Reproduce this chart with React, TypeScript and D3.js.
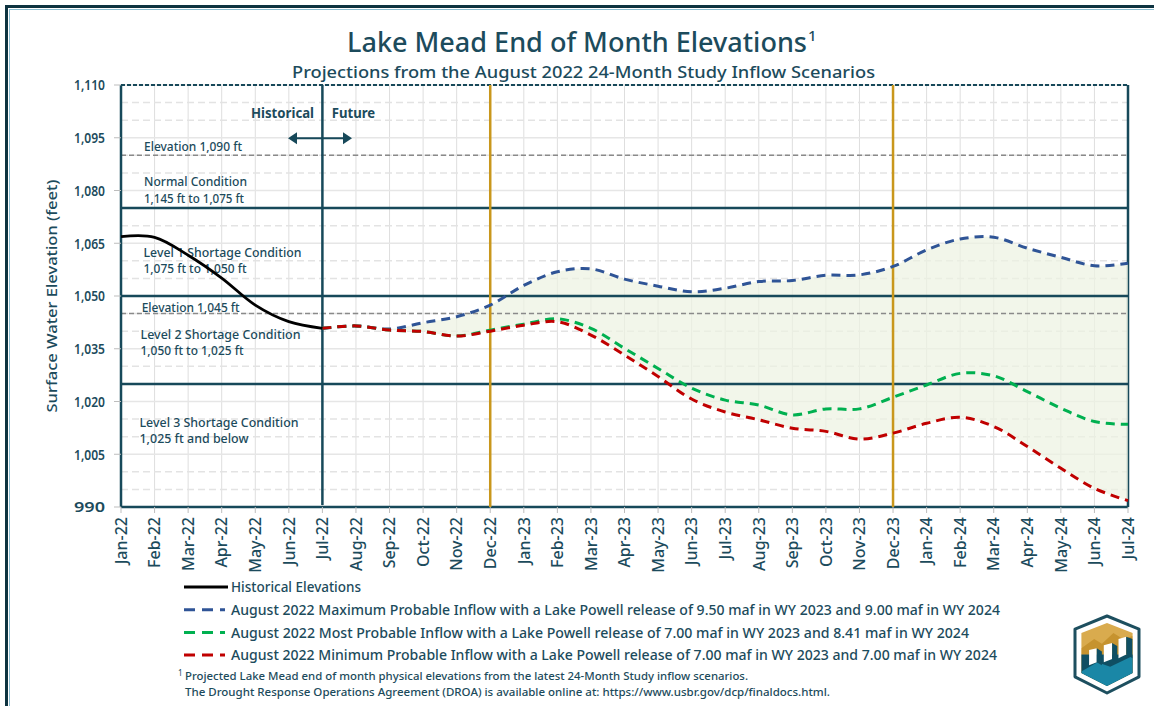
import React from "react";
import * as d3 from "d3";

const months = [
  "Jan-22", "Feb-22", "Mar-22", "Apr-22", "May-22", "Jun-22", "Jul-22", "Aug-22",
  "Sep-22", "Oct-22", "Nov-22", "Dec-22", "Jan-23", "Feb-23", "Mar-23", "Apr-23",
  "May-23", "Jun-23", "Jul-23", "Aug-23", "Sep-23", "Oct-23", "Nov-23", "Dec-23",
  "Jan-24", "Feb-24", "Mar-24", "Apr-24", "May-24", "Jun-24", "Jul-24",
];

// Jan-22 .. Jul-22
const historical = [1066.9, 1066.7, 1061.6, 1055.1, 1047.4, 1042.7, 1040.8];

// Jul-22 .. Jul-24
const maxProbable = [
  1040.8, 1041.5, 1040.6, 1042.4, 1044.1, 1047.4, 1053.0, 1056.9, 1057.7, 1054.8,
  1052.8, 1051.2, 1052.2, 1054.1, 1054.4, 1055.9, 1056.0, 1058.4, 1063.1, 1066.2,
  1066.7, 1063.6, 1061.0, 1058.6, 1059.3,
];
const mostProbable = [
  1040.8, 1041.5, 1040.3, 1039.9, 1038.6, 1040.3, 1042.0, 1043.5, 1040.8, 1035.1,
  1029.4, 1023.8, 1020.4, 1019.0, 1016.2, 1017.9, 1017.9, 1021.2, 1024.7, 1028.0,
  1027.3, 1022.8, 1018.1, 1014.3, 1013.5,
];
const minProbable = [
  1040.8, 1041.5, 1040.3, 1039.9, 1038.6, 1040.0, 1041.7, 1042.7, 1038.9, 1033.2,
  1027.1, 1020.7, 1017.0, 1014.8, 1012.4, 1011.5, 1009.3, 1011.0, 1013.8, 1015.5,
  1012.9, 1007.2, 1001.0, 995.3, 991.8,
];

const yTicks = [990, 1005, 1020, 1035, 1050, 1065, 1080, 1095, 1110];
const conditionLevels = [1075, 1050, 1025];
const referenceElevations = [1090, 1045];
const decemberMarks = ["Dec-22", "Dec-23"];
const splitMonth = "Jul-22";

const legendLabels = [
  "Historical Elevations",
  "August 2022 Maximum Probable Inflow with a Lake Powell release of 9.50 maf in WY 2023 and 9.00 maf in WY 2024",
  "August 2022 Most Probable Inflow with a Lake Powell release of 7.00 maf in WY 2023 and 8.41 maf in WY 2024",
  "August 2022 Minimum Probable Inflow with a Lake Powell release of 7.00 maf in WY 2023 and 7.00 maf in WY 2024",
];

const zoneLabels = [
  "Elevation 1,090 ft",
  "Normal Condition",
  "1,145 ft to 1,075 ft",
  "Level 1 Shortage  Condition",
  "1,075 ft to 1,050 ft",
  "Elevation 1,045 ft",
  "Level 2 Shortage  Condition",
  "1,050 ft to 1,025 ft",
  "Level 3 Shortage  Condition",
  "1,025  ft and below",
];

const TEAL = "#17495a";
const TXT = "#1c4b5c";
const GOLD = "#c9971c";
const FONT = "'Noto Sans', 'Open Sans', sans-serif";

export default function App() {
  const W = 1154, H = 706;
  const left = 121, right = 1128, top = 85, bottom = 507;

  const x = d3.scalePoint<string>().domain(months).range([left, right]);
  const y = d3.scaleLinear().domain([990, 1110]).range([bottom, top]);

  const futureMonths = months.slice(months.indexOf(splitMonth));
  const histMonths = months.slice(0, historical.length);

  const curve = d3.curveCatmullRom.alpha(0.5);
  const line = d3
    .line<[string, number]>()
    .x((d) => x(d[0])!)
    .y((d) => y(d[1]))
    .curve(curve);

  const pair = (vals: number[], ms: string[]) => ms.map((m, i) => [m, vals[i]] as [string, number]);

  const band = d3
    .area<number>()
    .x((i) => x(futureMonths[i])!)
    .y0((i) => y(minProbable[i]))
    .y1((i) => y(maxProbable[i]))
    .curve(curve);

  const minorGrid = d3.range(990, 1111, 5).filter((v) => !yTicks.includes(v));

  const series = [
    { vals: maxProbable, color: "#2f5496" },
    { vals: mostProbable, color: "#00b050" },
    { vals: minProbable, color: "#c00000" },
  ];

  const legendColors = ["#000000", "#2f5496", "#00b050", "#c00000"];
  const legendWidths = [130, 769, 738, 766];

  const notes = [
    { x: 144, y: 150.7, w: 98 },
    { x: 144, y: 186, w: 103 },
    { x: 144, y: 202.7, w: 100 },
    { x: 143.5, y: 256.7, w: 158 },
    { x: 143.5, y: 272.7, w: 103 },
    { x: 141.7, y: 311.7, w: 98 },
    { x: 140.5, y: 339, w: 160 },
    { x: 140.5, y: 355, w: 103 },
    { x: 139.5, y: 426.7, w: 159 },
    { x: 139.5, y: 443.3, w: 109 },
  ];

  // logo geometry
  const lx = 1075, ly = 616, lw = 64, lh = 77;
  const P = (u: number, v: number) => `${lx + u * lw},${ly + v * lh}`;
  const shield = [P(0.5, 0), P(1, 0.17), P(1, 0.79), P(0.5, 1), P(0, 0.79), P(0, 0.17)].join(" ");
  const inner = [P(0.5, 0.09), P(0.9, 0.22), P(0.9, 0.74), P(0.5, 0.91), P(0.1, 0.74), P(0.1, 0.22)].join(" ");

  const arrowY = 138.3;

  return (
    <svg
      width={W}
      height={H}
      style={{ position: "absolute", left: 0, top: 0, background: "#fff" }}
      fontFamily={FONT}
    >
      <rect x={0} y={0} width={W} height={H} fill="#fff" />
      {/* outer frame */}
      <rect x={6.5} y={6.5} width={W + 20} height={H + 20} fill="none" stroke="#0e3340" strokeWidth={3} />
      <rect x={9.5} y={9.5} width={W + 20} height={H + 20} fill="none" stroke="#8bbdd0" strokeWidth={1} />

      {/* title */}
      <text x={347} y={52} fontSize={27} fontWeight={500} fill={TXT} textLength={460} lengthAdjust="spacingAndGlyphs">
        Lake Mead End of Month Elevations
      </text>
      <text x={808} y={41} fontSize={15} fontWeight={500} fill={TXT}>1</text>
      <text x={292} y={78} fontSize={17} fontWeight={500} fill={TXT} textLength={583} lengthAdjust="spacingAndGlyphs">
        Projections from the August 2022 24-Month Study Inflow Scenarios
      </text>

      {/* grid */}
      {months.map((m) => (
        <line key={"vg" + m} x1={x(m)} x2={x(m)} y1={top} y2={bottom} stroke="#dedede" strokeWidth={1} />
      ))}
      {minorGrid.map((v) => (
        <line key={"mg" + v} x1={left} x2={right} y1={y(v)} y2={y(v)} stroke="#e3e3e3" strokeWidth={1.5} strokeDasharray="7,4" />
      ))}
      {yTicks.map((v) => (
        <line key={"yg" + v} x1={left} x2={right} y1={y(v)} y2={y(v)} stroke="#e6e6e6" strokeWidth={1.5} />
      ))}

      {/* right border (under band) */}
      <line x1={right} x2={right} y1={top} y2={bottom} stroke={TEAL} strokeWidth={2.5} />

      {/* projection band */}
      <path d={band(d3.range(futureMonths.length))!} fill="#edf2e2" fillOpacity={0.72} />

      {/* reference elevation lines */}
      {referenceElevations.map((v) => (
        <line key={"re" + v} x1={left} x2={right} y1={y(v)} y2={y(v)} stroke="#8a8a8a" strokeWidth={1.5} strokeDasharray="5,3" />
      ))}

      {/* condition levels */}
      {conditionLevels.map((v) => (
        <line key={"cl" + v} x1={left} x2={right} y1={y(v)} y2={y(v)} stroke={TEAL} strokeWidth={2.5} />
      ))}

      {/* frame */}
      <line x1={left} x2={right} y1={top} y2={top} stroke={TEAL} strokeWidth={2} strokeDasharray="4,2" />
      <line x1={left} x2={right} y1={bottom} y2={bottom} stroke={TEAL} strokeWidth={2.5} />
      <line x1={left} x2={left} y1={top} y2={bottom} stroke={TEAL} strokeWidth={2.5} />
      <line x1={x(splitMonth)} x2={x(splitMonth)} y1={top} y2={bottom - 2} stroke={TEAL} strokeWidth={2.5} />

      {decemberMarks.map((m) => (
        <line key={"dm" + m} x1={x(m)} x2={x(m)} y1={top} y2={bottom} stroke={GOLD} strokeWidth={2.5} />
      ))}

      {/* zone notes */}
      {zoneLabels.map((t, i) => (
        <text
          key={"zn" + i}
          x={notes[i].x}
          y={notes[i].y}
          fontSize={12.5}
          fontWeight={500}
          fill={TXT}
          textLength={notes[i].w}
          lengthAdjust="spacingAndGlyphs"
        >
          {t}
        </text>
      ))}

      {/* historical / future marker */}
      <text x={314} y={118.3} fontSize={13.5} fontWeight={700} fill={TXT} textAnchor="end" textLength={63} lengthAdjust="spacingAndGlyphs">
        Historical
      </text>
      <text x={331.7} y={118.3} fontSize={13.5} fontWeight={700} fill={TXT} textLength={43.5} lengthAdjust="spacingAndGlyphs">
        Future
      </text>
      <line x1={294} x2={346} y1={arrowY} y2={arrowY} stroke={TEAL} strokeWidth={2} />
      <path d={`M288,${arrowY} L297,${arrowY - 6} L297,${arrowY + 6} Z`} fill={TEAL} />
      <path d={`M352,${arrowY} L343,${arrowY - 6} L343,${arrowY + 6} Z`} fill={TEAL} />

      {/* projections */}
      {series.map((s) => (
        <path
          key={s.color}
          d={line(pair(s.vals, futureMonths))!}
          fill="none"
          stroke={s.color}
          strokeWidth={3}
          strokeDasharray="9,6"
        />
      ))}
      <path d={line(pair(historical, histMonths))!} fill="none" stroke="#000" strokeWidth={2.8} />

      {/* y axis */}
      {yTicks.map((v) => (
        <g key={"yt" + v}>
          <line x1={left - 7} x2={left} y1={y(v)} y2={y(v)} stroke="#bdbdbd" strokeWidth={1} />
          <text
            x={105}
            y={y(v)}
            dy="0.36em"
            fontSize={15}
            fontWeight={600}
            fill={TXT}
            textAnchor="end"
            textLength={31}
            lengthAdjust="spacingAndGlyphs"
          >
            {d3.format(",")(v)}
          </text>
        </g>
      ))}
      <text
        transform={`translate(52,${(top + bottom) / 2}) rotate(-90)`}
        dy="0.35em"
        fontSize={15}
        fontWeight={500}
        fill={TXT}
        textAnchor="middle"
        textLength={233}
        lengthAdjust="spacingAndGlyphs"
      >
        Surface Water Elevation (feet)
      </text>

      {/* x axis */}
      {months.map((m) => (
        <g key={"xt" + m}>
          <line x1={x(m)} x2={x(m)} y1={bottom} y2={bottom + 6} stroke="#bdbdbd" strokeWidth={1} />
          <text
            transform={`translate(${x(m)},${bottom + 10}) rotate(-90)`}
            dy="0.36em"
            fontSize={16}
            fontWeight={500}
            fill={TXT}
            textAnchor="end"
          >
            {m}
          </text>
        </g>
      ))}

      {/* legend */}
      {legendLabels.map((t, i) => {
        const cy = 587 + i * 22.7;
        return (
          <g key={"lg" + i}>
            <line
              x1={184}
              x2={i === 0 ? 228 : 225}
              y1={cy}
              y2={cy}
              stroke={legendColors[i]}
              strokeWidth={3}
              strokeDasharray={i === 0 ? undefined : "11,7"}
            />
            <text
              x={231}
              y={cy}
              dy="0.36em"
              fontSize={14.5}
              fontWeight={500}
              fill={TXT}
              textLength={legendWidths[i]}
              lengthAdjust="spacingAndGlyphs"
            >
              {t}
            </text>
          </g>
        );
      })}

      {/* footnote */}
      <text x={178} y={676} fontSize={8} fill={TXT}>1</text>
      <text x={185} y={680} fontSize={11.5} fontWeight={500} fill={TXT} textLength={563} lengthAdjust="spacingAndGlyphs">
        Projected Lake Mead end of month physical elevations from the latest 24-Month Study inflow scenarios.
      </text>
      <text x={185} y={696} fontSize={11.5} fontWeight={500} fill={TXT} textLength={645} lengthAdjust="spacingAndGlyphs">
        The Drought Response Operations Agreement (DROA) is available online at: https://www.usbr.gov/dcp/finaldocs.html.
      </text>

      {/* logo */}
      <defs>
        <clipPath id="shieldClip">
          <polygon points={inner} />
        </clipPath>
      </defs>
      <polygon points={shield} fill="#fff" stroke="#1d4f5f" strokeWidth={3} strokeLinejoin="round" />
      <g clipPath="url(#shieldClip)">
        <rect x={lx} y={ly} width={lw} height={lh} fill="#d9ab4e" />
        <polygon
          points={[P(0.1, 0.42), P(0.3, 0.3), P(0.42, 0.36), P(0.6, 0.22), P(0.75, 0.3), P(0.9, 0.26), P(0.9, 0.5), P(0.1, 0.5)].join(" ")}
          fill="#c6932f"
        />
        <rect x={lx} y={ly + 0.5 * lh} width={lw} height={lh} fill="#0f4f63" />
        <polygon
          points={[P(0.1, 0.72), P(0.35, 0.6), P(0.55, 0.66), P(0.9, 0.52), P(0.9, 1), P(0.1, 1)].join(" ")}
          fill="#1a87a6"
        />
        <polygon points={[P(0.22, 0.44), P(0.34, 0.42), P(0.34, 0.6), P(0.22, 0.64)].join(" ")} fill="#fff" />
        <polygon points={[P(0.45, 0.38), P(0.58, 0.35), P(0.58, 0.56), P(0.45, 0.6)].join(" ")} fill="#fff" />
        <polygon points={[P(0.68, 0.3), P(0.8, 0.27), P(0.8, 0.5), P(0.68, 0.55)].join(" ")} fill="#fff" />
        <polygon points={[P(0.34, 0.42), P(0.42, 0.46), P(0.42, 0.64), P(0.34, 0.6)].join(" ")} fill="#0f4f63" />
        <polygon points={[P(0.58, 0.35), P(0.66, 0.39), P(0.66, 0.6), P(0.58, 0.56)].join(" ")} fill="#0f4f63" />
        <polygon points={[P(0.8, 0.27), P(0.9, 0.3), P(0.9, 0.55), P(0.8, 0.5)].join(" ")} fill="#0f4f63" />
      </g>
    </svg>
  );
}
